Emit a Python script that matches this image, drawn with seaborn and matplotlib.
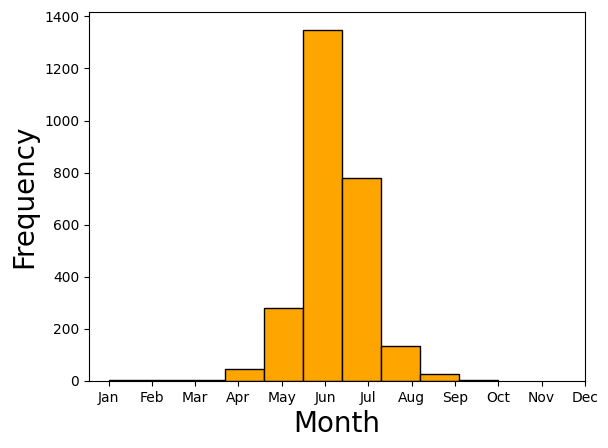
import numpy as np
import pandas as pd
import seaborn as sns
import matplotlib.pyplot as plt

# Month numbers present in the data and how many records fall in each
month_num = [1, 2, 3, 4, 5, 6, 7, 8, 9, 10]
counts = [2, 3, 3, 45, 279, 1349, 781, 134, 27, 2]
month_labels = ['Jan', 'Feb', 'Mar', 'Apr', 'May', 'Jun',
                'Jul', 'Aug', 'Sep', 'Oct', 'Nov', 'Dec']

df = pd.DataFrame({'month': month_num, 'count': counts})

fig = plt.figure(figsize=(6.08, 4.48), dpi=100)
ax = fig.add_axes([0.1464, 0.1496, 0.8156, 0.8234])

sns.histplot(data=df, x='month', weights='count', bins=10,
             color='orange', edgecolor='black', alpha=1, ax=ax)

ax.set_xticks(range(1, 13))
ax.set_xticklabels(month_labels)
ax.set_xlabel('Month', fontsize=20)
ax.set_ylabel('Frequency', fontsize=20)

fig.savefig('out.png', dpi=100)
